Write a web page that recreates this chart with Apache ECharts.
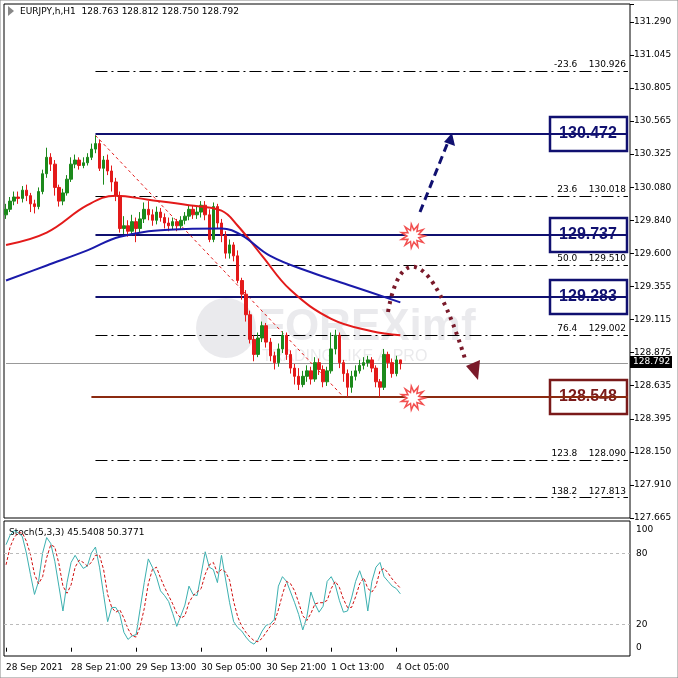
<!DOCTYPE html>
<html>
<head>
<meta charset="utf-8">
<script src="https://cdn.jsdelivr.net/npm/echarts@6/dist/echarts.min.js"></script>
<style>
  html, body { margin: 0; padding: 0; background: #fff; }
  #chart { width: 678px; height: 678px; }
</style>
</head>
<body>
<div id="chart"></div>
<script>
// candles, H1 bars (close / high / low), opens follow previous close
const firstOpen = 129.88;
const closes = [129.92,129.98,130.01,130.00,130.06,130.02,129.96,129.94,130.05,130.18,130.30,130.25,130.08,129.98,130.04,130.14,130.25,130.28,130.24,130.26,130.30,130.36,130.40,
  130.22,130.28,130.20,130.12,130.02,129.78,129.80,129.76,129.83,129.78,129.85,129.92,129.88,129.84,129.90,129.86,129.82,129.80,129.83,129.80,129.84,129.87,129.92,129.88,129.90,129.95,129.88,
  129.70,129.94,129.82,129.73,129.60,129.66,129.58,129.40,129.30,129.15,128.97,128.86,128.98,129.07,128.95,128.85,128.80,128.90,129.00,128.86,128.76,128.70,128.64,128.70,128.74,128.68,128.80,128.75,128.66,128.74,
  128.90,129.00,128.80,128.72,128.62,128.70,128.74,128.78,128.80,128.82,128.76,128.66,128.62,128.86,128.80,128.72,128.82,128.792];
const highs = [129.96,130.01,130.05,130.05,130.09,130.10,130.04,129.99,130.08,130.21,130.37,130.33,130.28,130.10,130.07,130.17,130.30,130.32,130.30,130.30,130.33,130.40,130.46,
  130.43,130.31,130.32,130.24,130.15,130.05,129.87,129.84,129.88,129.86,129.90,129.97,129.98,129.92,129.94,129.93,129.89,129.86,129.86,129.85,129.87,129.90,129.95,129.95,129.94,129.98,129.98,
  129.92,129.97,129.96,129.85,129.76,129.70,129.68,129.62,129.42,129.33,129.18,129.00,129.02,129.10,129.09,128.98,128.88,128.94,129.03,129.02,128.89,128.79,128.76,128.74,128.78,128.77,128.84,128.83,128.78,128.77,
  129.02,129.04,129.02,128.82,128.75,128.74,128.78,128.82,128.84,128.85,128.84,128.78,128.68,128.90,128.88,128.83,128.85,128.812];
const lows = [129.85,129.90,129.95,129.96,129.97,129.98,129.90,129.89,129.92,130.03,130.15,130.20,130.02,129.94,129.95,130.02,130.12,130.22,130.21,130.22,130.24,130.28,130.33,
  130.20,130.10,130.17,130.05,129.98,129.75,129.74,129.72,129.73,129.68,129.75,129.82,129.84,129.80,129.81,129.83,129.78,129.76,129.77,129.76,129.77,129.81,129.84,129.85,129.85,129.86,129.84,
  129.68,129.68,129.78,129.68,129.56,129.56,129.54,129.38,129.26,129.10,128.94,128.81,128.84,128.95,128.91,128.81,128.75,128.77,128.87,128.82,128.72,128.64,128.60,128.62,128.66,128.64,128.66,128.71,128.62,128.63,
  128.72,128.86,128.76,128.66,128.55,128.58,128.67,128.72,128.75,128.77,128.73,128.62,128.55,128.60,128.76,128.69,128.70,128.75];

// moving averages read at anchor bars [bar, value]
const maRed = [[0,129.66],[10,129.75],[20,129.95],[27,130.02],[35,129.99],[45,129.95],[53,129.91],[57,129.80],[63,129.58],[70,129.33],[80,129.12],[90,129.03],[97,129.00]];
const maBlue = [[0,129.40],[10,129.51],[20,129.62],[28,129.72],[40,129.77],[53,129.78],[58,129.73],[65,129.58],[75,129.46],[85,129.36],[97,129.24]];

// stochastic 5,3,3
const stochK = [87,95,99,97,94,80,62,45,56,80,93,88,73,52,31,55,72,78,72,67,69,80,85,68,45,22,34,34,28,13,7,10,11,33,55,75,68,60,48,44,39,29,18,27,36,52,45,44,62,81,68,66,55,78,58,38,22,17,14,9,5,3,7,14,19,20,24,52,60,56,47,38,28,15,26,47,37,30,35,56,60,53,40,30,31,42,56,65,55,31,56,68,72,60,56,52,50,45.54];
const stochD = [70,85,93,97,97,90,79,62,54,60,76,87,85,71,52,46,53,68,74,72,69,72,78,78,66,45,34,30,32,25,16,10,9,18,33,54,66,68,59,51,44,37,29,25,27,38,44,47,50,62,70,72,63,66,64,57,39,26,18,13,9,6,5,8,13,18,21,32,45,56,54,48,38,27,23,29,37,38,38,40,50,56,51,41,34,34,43,54,59,50,47,52,65,67,63,58,54,50.38];

const timeLabels = {0:'28 Sep 2021',16:'28 Sep 21:00',32:'29 Sep 13:00',48:'30 Sep 05:00',64:'30 Sep 21:00',80:'1 Oct 13:00',96:'4 Oct 05:00'};
const priceTicks = ['127.665','127.910','128.150','128.395','128.635','128.875','129.115','129.355','129.600','129.840','130.080','130.325','130.565','130.805','131.045','131.290'];

const fibLevels = [['-23.6', 130.926], ['23.6', 130.018], ['50.0', 129.510], ['76.4', 129.002], ['123.8', 128.090], ['138.2', 127.813]];
const keyLevels = [130.472, 129.737, 129.283];
const supportLevel = 128.548;
const lastPrice = 128.792;

const nSlots = 154;
const cats = [];
for (let i = 0; i < nSlots; i++) cats.push(timeLabels[i] || '');

const ohlc = closes.map((c, i) => [i === 0 ? firstOpen : closes[i - 1], c, lows[i], highs[i]]);
const sparse = (pts) => { const a = new Array(closes.length).fill(null); pts.forEach(p => { a[p[0]] = p[1]; }); return a; };

const chart = echarts.init(document.getElementById('chart'));
const font = 'Tahoma, "DejaVu Sans", sans-serif';
const pMin = 127.665, pMax = 131.42;
const tickStep = (131.29 - 127.665) / 15;

const fibLines = fibLevels.map(f => [
  { coord: [22, f[1]], label: { show: true, formatter: f[0] + '    ' + f[1].toFixed(3) } },
  { coord: [nSlots - 1, f[1]] }
]);
const navyLines = keyLevels.map(v => [{ coord: [22, v] }, { coord: [nSlots - 1, v] }]);

function burst(cx, cy) {
  const pts = [];
  for (let i = 0; i < 22; i++) {
    const r = i % 2 === 0 ? 12 : 6;
    const a = i * Math.PI / 11;
    pts.push([cx + r * Math.cos(a), cy + r * Math.sin(a)]);
  }
  return { type: 'polygon', shape: { points: pts }, style: { fill: '#fff', stroke: '#f25050', lineWidth: 1.5 }, z: 20 };
}
function box(y, text, color) {
  return {
    type: 'group', z: 30, children: [
      { type: 'rect', shape: { x: 550, y: y - 17, width: 77, height: 34 }, style: { fill: '#fff', stroke: color, lineWidth: 2.5 } },
      { type: 'text', style: { x: 588, y: y, text: text, fill: color, font: 'bold 16px Arial, "Liberation Sans"', textAlign: 'center', textVerticalAlign: 'middle' } }
    ]
  };
}

const option = {
  animation: false,
  backgroundColor: '#fff',
  grid: [
    { left: 4, right: 48, top: 4, height: 514, show: true, borderColor: '#000', borderWidth: 1, backgroundColor: 'transparent' },
    { left: 4, right: 48, top: 521, height: 135, show: true, borderColor: '#000', borderWidth: 1 },
    { left: 4, right: 48, top: 530, height: 118 }
  ],
  xAxis: [
    { type: 'category', data: cats, gridIndex: 0, axisLine: { show: false }, axisTick: { show: false }, axisLabel: { show: false } },
    { type: 'category', data: cats, gridIndex: 1, position: 'bottom', axisLine: { show: false },
      axisTick: { show: true, length: 4, interval: (i, v) => v !== '', lineStyle: { color: '#000' }, alignWithLabel: true },
      axisLabel: { interval: (i, v) => v !== '', align: 'left', margin: 7, fontSize: 9, fontFamily: font, color: '#000' } },
    { type: 'category', data: cats, gridIndex: 2, show: false }
  ],
  yAxis: [
    { type: 'value', gridIndex: 0, min: pMin, max: pMax, show: false, scale: true },
    { type: 'value', gridIndex: 0, min: 0, max: (pMax - pMin) / tickStep, interval: 1, position: 'right',
      axisLine: { show: false }, axisTick: { show: true, length: 4, inside: false, lineStyle: { color: '#000' } }, splitLine: { show: false },
      axisLabel: { fontSize: 9, fontFamily: font, color: '#000', margin: 4, formatter: v => priceTicks[Math.round(v)] || '' } },
    { type: 'value', gridIndex: 1, min: -7, max: 107, show: false },
    { type: 'value', gridIndex: 2, min: 0, max: 100, interval: 20, position: 'right', offset: 0,
      axisLine: { show: false }, axisTick: { show: false }, splitLine: { show: false },
      axisLabel: { fontSize: 9, fontFamily: font, color: '#000', margin: 6, formatter: v => [0, 20, 80, 100].includes(v) ? String(v) : '' } }
  ],
  series: [
    {
      type: 'candlestick', xAxisIndex: 0, yAxisIndex: 0, data: ohlc, barWidth: 3, z: 5,
      itemStyle: { color: '#1c8a1c', color0: '#e31a1a', borderColor: '#1c8a1c', borderColor0: '#e31a1a', borderWidth: 1 },
      markLine: {
        symbol: 'none', silent: true, animation: false,
        lineStyle: { color: '#000', type: [12, 4, 2, 4], width: 1 },
        label: { position: 'insideEndTop', fontSize: 9, fontFamily: font, color: '#000', distance: [2, 2] },
        data: fibLines
      }
    },
    {
      type: 'line', xAxisIndex: 0, yAxisIndex: 0, data: [], silent: true,
      markLine: {
        symbol: 'none', silent: true, label: { show: false },
        data: [
          ...navyLines.map(l => [{ ...l[0], lineStyle: { color: '#101070', width: 2, type: 'solid' } }, l[1]]),
          [{ coord: [21, supportLevel], lineStyle: { color: '#8b2a10', width: 2, type: 'solid' } }, { coord: [nSlots - 1, supportLevel] }],
          [{ coord: [0, lastPrice], lineStyle: { color: '#999', width: 1, type: 'solid' } }, { coord: [nSlots - 1, lastPrice] }],
          [{ coord: [22, 130.46], lineStyle: { color: '#e31a1a', width: 1, type: [3, 3] } }, { coord: [83, 128.55] }]
        ]
      }
    },
    { type: 'line', xAxisIndex: 0, yAxisIndex: 0, data: sparse(maRed), connectNulls: true, smooth: 0.4, symbol: 'none', z: 6, lineStyle: { color: '#e31a1a', width: 2 } },
    { type: 'line', xAxisIndex: 0, yAxisIndex: 0, data: sparse(maBlue), connectNulls: true, smooth: 0.4, symbol: 'none', z: 6, lineStyle: { color: '#1a1aaa', width: 2 } },
    {
      type: 'line', xAxisIndex: 1, yAxisIndex: 2, data: stochK, symbol: 'none', lineStyle: { color: '#3cb0b0', width: 1 },
      markLine: { symbol: 'none', silent: true, label: { show: false }, lineStyle: { color: '#bbb', type: [3, 3], width: 1 }, data: [{ yAxis: 20 }, { yAxis: 80 }] }
    },
    { type: 'line', xAxisIndex: 1, yAxisIndex: 2, data: stochD, symbol: 'none', lineStyle: { color: '#d01010', width: 1, type: [3, 2] } },
    { type: 'line', xAxisIndex: 2, yAxisIndex: 3, data: [] }
  ],
  graphic: [
    { type: 'rect', shape: { x: 0, y: 0, width: 678, height: 678 }, style: { fill: 'none', stroke: '#888', lineWidth: 1 }, silent: true },
    // watermark
    { type: 'circle', shape: { cx: 226, cy: 328, r: 30 }, style: { fill: 'rgba(150,150,165,0.2)' }, z: 0 },
    { type: 'text', style: { x: 258, y: 328, text: 'FOREXimf', fill: 'rgba(150,150,165,0.2)', font: 'bold 44px Arial, "Liberation Sans"', textVerticalAlign: 'middle' }, z: 0 },
    { type: 'text', style: { x: 262, y: 357, text: 'TRADING LIKE A PRO', fill: 'rgba(170,170,180,0.25)', font: '16px Arial, "Liberation Sans"', textVerticalAlign: 'middle' }, z: 0 },
    // titles
    { type: 'polygon', shape: { points: [[8, 6], [14, 11], [8, 16]] }, style: { fill: '#888' } },
    { type: 'text', style: { x: 20, y: 12, text: 'EURJPY,h,H1  128.763 128.812 128.750 128.792', fill: '#000', font: '9px Tahoma, "DejaVu Sans"', textVerticalAlign: 'middle' } },
    { type: 'text', style: { x: 9, y: 533, text: 'Stoch(5,3,3) 45.5408 50.3771', fill: '#000', font: '9px Tahoma, "DejaVu Sans"', textVerticalAlign: 'middle' } },
    // last price tag
    { type: 'rect', shape: { x: 630, y: 356, width: 42, height: 12 }, style: { fill: '#000' }, z: 30 },
    { type: 'text', style: { x: 633, y: 362, text: '128.792', fill: '#fff', font: '9px Tahoma, "DejaVu Sans"', textVerticalAlign: 'middle' }, z: 31 },
    // level boxes
    box(134, '130.472', '#101070'),
    box(235, '129.737', '#101070'),
    box(297, '129.283', '#101070'),
    box(397, '128.548', '#7a1a1a'),
    // scenario arrows
    { type: 'line', shape: { x1: 420, y1: 212, x2: 448, y2: 142 }, style: { stroke: '#101070', lineWidth: 3, lineDash: [8, 5] }, z: 25 },
    { type: 'polygon', shape: { points: [[452, 133], [455, 146], [444, 142]] }, style: { fill: '#101070' }, z: 25 },
    { type: 'bezierCurve', shape: { x1: 388, y1: 312, cpx1: 400, cpy1: 245, cpx2: 430, cpy2: 245, x2: 466, y2: 362 }, style: { stroke: '#7a1a2a', lineWidth: 4, lineDash: [3, 5], fill: 'none' }, z: 25 },
    { type: 'polygon', shape: { points: [[466, 366], [480, 360], [478, 380]] }, style: { fill: '#7a1a2a' }, z: 25 },
    burst(413, 236),
    burst(413, 398)
  ]
};
chart.setOption(option);
</script>
</body>
</html>
